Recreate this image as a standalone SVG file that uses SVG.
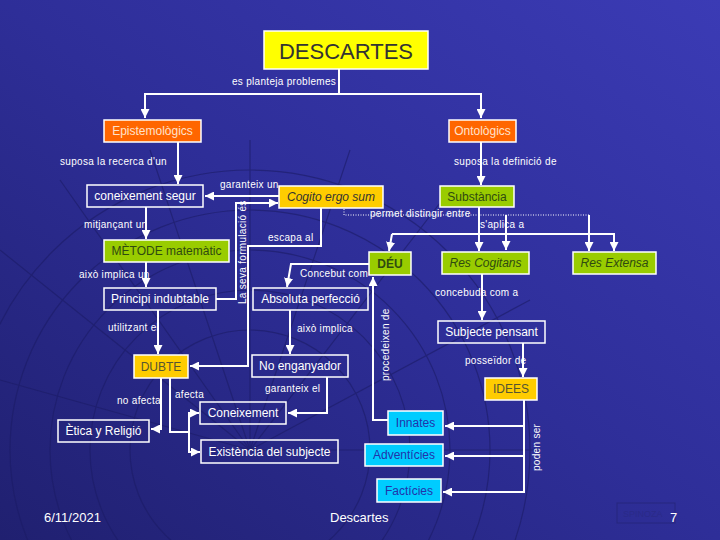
<svg xmlns="http://www.w3.org/2000/svg" width="720" height="540" viewBox="0 0 720 540">
<defs>
<linearGradient id="bg" x1="0" y1="1" x2="1" y2="0">
<stop offset="0" stop-color="#202070"/>
<stop offset="0.5" stop-color="#2e2e98"/>
<stop offset="1" stop-color="#3b3bb5"/>
</linearGradient>
<marker id="ah" viewBox="0 0 10 10" refX="10" refY="5" markerWidth="9" markerHeight="9" markerUnits="userSpaceOnUse" orient="auto">
<path d="M0,0 L10,5 L0,10 z" fill="#ffffff"/>
</marker>
<style>
.c{fill:none;stroke:#ffffff;stroke-width:2}
.d{fill:none;stroke:#ffffff;stroke-width:1;stroke-dasharray:1 1.5}
.l{font-family:"Liberation Sans",Arial,sans-serif;font-size:10px;fill:#ffffff;letter-spacing:0.3px}
.t{font-family:"Liberation Sans",Arial,sans-serif;font-size:12px;text-anchor:middle;dominant-baseline:central}
.box{stroke:#ffffff;stroke-width:1.5}
.out{fill:none}
.ow{fill:#ffffff}
.yel{fill:#ffff00}
.org{fill:#ff6600}
.gold{fill:#ffcc00}
.grn{fill:#99cc00}
.cyn{fill:#00ccff}
.dk{fill:#333333}
.gt{fill:#2f4a10}
.ct{fill:#2233aa}
.grid{fill:none;stroke:#1c1c66;stroke-width:1.2;opacity:0.6}
</style>
</defs>
<rect width="720" height="540" fill="url(#bg)"/>
<g class="grid">
<circle cx="250" cy="450" r="120"/>
<circle cx="250" cy="450" r="160"/>
<circle cx="250" cy="450" r="200"/>
<circle cx="250" cy="450" r="240"/>
<circle cx="250" cy="450" r="280"/>
<path d="M250,450 L0,250 M250,450 L60,180 M250,450 L150,150 M250,450 L250,140 M250,450 L350,150 M250,450 L450,190 M250,450 L530,300 M250,450 L540,450 M250,450 L0,380"/>
</g>
<g id="connectors">
<path class="c" d="M339,69 V94 H145 V118" marker-end="url(#ah)"/>
<path class="c" d="M339,94 H481 V118" marker-end="url(#ah)"/>
<path class="c" d="M178,142 V184" marker-end="url(#ah)"/>
<path class="c" d="M481,142 V185" marker-end="url(#ah)"/>
<path class="c" d="M279,196 H205" marker-end="url(#ah)"/>
<path class="c" d="M146,207 V239" marker-end="url(#ah)"/>
<path class="c" d="M146,262 V287" marker-end="url(#ah)"/>
<path class="c" d="M158,310 V354" marker-end="url(#ah)"/>
<path class="c" d="M216,299 H236 V203 H278" marker-end="url(#ah)"/>
<path class="c" d="M321,208 V246 H248 V366 H190" marker-end="url(#ah)"/>
<path class="c" d="M369,264 H291 L287,287" marker-end="url(#ah)"/>
<path class="c" d="M290,310 V354" marker-end="url(#ah)"/>
<path class="c" d="M327,377 V413 H288" marker-end="url(#ah)"/>
<path class="c" d="M170,378 V432 H189"/>
<path class="c" d="M189,432 V413 H199" marker-end="url(#ah)"/>
<path class="c" d="M189,432 V452 H200" marker-end="url(#ah)"/>
<path class="c" d="M161,378 V429 H151" marker-end="url(#ah)"/>
<path class="d" d="M344,209 V215 H589"/>
<path class="c" d="M506,215 V250" marker-end="url(#ah)"/>
<path class="c" d="M589,215 V251" marker-end="url(#ah)"/>
<path class="c" d="M479,207 V251" marker-end="url(#ah)"/>
<path class="c" d="M392,234 H614 V251" marker-end="url(#ah)"/>
<path class="c" d="M392,234 L389,251" marker-end="url(#ah)"/>
<path class="c" d="M388,420 H373 V277" marker-end="url(#ah)"/>
<path class="c" d="M482,274 V320" marker-end="url(#ah)"/>
<path class="c" d="M523,343 V377" marker-end="url(#ah)"/>
<path class="c" d="M524,400 V492 H443" marker-end="url(#ah)"/>
<path class="c" d="M524,426 H445" marker-end="url(#ah)"/>
<path class="c" d="M524,456 H445" marker-end="url(#ah)"/>
</g>
<g id="labels">
<text class="l" x="232" y="85">es planteja problemes</text>
<text class="l" x="60" y="165">suposa  la recerca d'un</text>
<text class="l" x="454" y="165">suposa  la definició de</text>
<text class="l" x="220" y="188">garanteix un</text>
<text class="l" x="84" y="228">mitjançant un</text>
<text class="l" x="79" y="278">això implica un</text>
<text class="l" x="108" y="331">utilitzant el</text>
<text class="l" x="268" y="241">escapa al</text>
<text class="l" transform="translate(246,304) rotate(-90)">La seva formulació és</text>
<text class="l" x="370" y="217">permet distingir entre</text>
<text class="l" x="480" y="228">s'aplica a</text>
<text class="l" x="300" y="277">Concebut com</text>
<text class="l" x="435" y="296">concebuda com a</text>
<text class="l" x="297" y="332">això implica</text>
<text class="l" x="265" y="392">garanteix el</text>
<text class="l" transform="translate(389,381) rotate(-90)">procedeixen de</text>
<text class="l" x="465" y="364">posseïdor de</text>
<text class="l" x="175" y="398">afecta</text>
<text class="l" x="117" y="404">no afecta</text>
<text class="l" transform="translate(540,471) rotate(-90)">poden ser</text>
</g>
<g id="descartes"><rect class="box yel" x="264" y="31" width="164" height="38"/><text class="t dk" x="346" y="51" style="font-size:22px">DESCARTES</text></g>
<g id="epistemologics"><rect class="box org" x="104" y="120" width="97" height="22"/><text class="t" x="152.5" y="131" fill="#ffe2cc">Epistemològics</text></g>
<g id="ontologics"><rect class="box org" x="449" y="120" width="67" height="22"/><text class="t" x="482.5" y="131" fill="#ffe2cc">Ontològics</text></g>
<g id="coneixement-segur"><rect class="box out" x="87" y="185" width="116" height="22"/><text class="t ow" x="145" y="196">coneixement segur</text></g>
<g id="cogito"><rect class="box gold" x="279" y="186" width="104" height="22"/><text class="t dk" x="331" y="197" font-style="italic">Cogito ergo sum</text></g>
<g id="substancia"><rect class="box grn" x="440" y="186" width="74" height="21"/><text class="t gt" x="477" y="196.5">Substància</text></g>
<g id="metode"><rect class="box grn" x="104" y="240" width="125" height="22"/><text class="t gt" x="166.5" y="251">MÈTODE matemàtic</text></g>
<g id="deu"><rect class="box grn" x="369" y="252" width="42" height="23" stroke-width="2.5"/><text class="t gt" x="390" y="263.5" font-weight="bold">DÉU</text></g>
<g id="res-cogitans"><rect class="box grn" x="442" y="252" width="87" height="22"/><text class="t gt" x="485.5" y="263" font-style="italic">Res Cogitans</text></g>
<g id="res-extensa"><rect class="box grn" x="573" y="252" width="83" height="22"/><text class="t gt" x="614.5" y="263" font-style="italic">Res Extensa</text></g>
<g id="principi"><rect class="box out" x="104" y="288" width="112" height="22"/><text class="t ow" x="160" y="299">Principi indubtable</text></g>
<g id="absoluta"><rect class="box out" x="253" y="288" width="115" height="22"/><text class="t ow" x="310.5" y="299">Absoluta perfecció</text></g>
<g id="subjecte-pensant"><rect class="box out" x="438" y="321" width="107" height="22"/><text class="t ow" x="491.5" y="332">Subjecte pensant</text></g>
<g id="dubte"><rect class="box gold" x="134" y="355" width="54" height="23"/><text class="t" x="161" y="366.5" fill="#555533">DUBTE</text></g>
<g id="no-enganyador"><rect class="box out" x="252" y="355" width="96" height="22"/><text class="t ow" x="300" y="366">No enganyador</text></g>
<g id="idees"><rect class="box gold" x="485" y="378" width="52" height="22"/><text class="t" x="511" y="389" fill="#555533">IDEES</text></g>
<g id="coneixement"><rect class="box out" x="200" y="402" width="86" height="22"/><text class="t ow" x="243" y="413">Coneixement</text></g>
<g id="innates"><rect class="box cyn" x="388" y="411" width="55" height="24"/><text class="t ct" x="415.5" y="423">Innates</text></g>
<g id="etica"><rect class="box out" x="58" y="420" width="91" height="22"/><text class="t ow" x="103.5" y="431">Ètica y Religió</text></g>
<g id="existencia"><rect class="box out" x="201" y="440" width="137" height="23"/><text class="t ow" x="269.5" y="451.5">Existència del subjecte</text></g>
<g id="adventicies"><rect class="box cyn" x="365" y="444" width="78" height="22"/><text class="t ct" x="404" y="455">Adventícies</text></g>
<g id="facticies"><rect class="box cyn" x="377" y="479" width="64" height="23"/><text class="t ct" x="409" y="490.5">Factícies</text></g>
<g id="footer">
<text x="44" y="522" font-family="'Liberation Sans',Arial,sans-serif" font-size="13" fill="#ffffff">6/11/2021</text>
<text x="330" y="522" font-family="'Liberation Sans',Arial,sans-serif" font-size="13" fill="#ffffff">Descartes</text>
<rect x="617" y="503" width="58" height="20" fill="none" stroke="#26267e" stroke-width="1"/>
<text x="623" y="517" font-family="'Liberation Sans',Arial,sans-serif" font-size="9" fill="#2a2a88">SPINOZA</text>
<text x="670" y="522" font-family="'Liberation Sans',Arial,sans-serif" font-size="13" fill="#ffffff">7</text>
</g>
</svg>
